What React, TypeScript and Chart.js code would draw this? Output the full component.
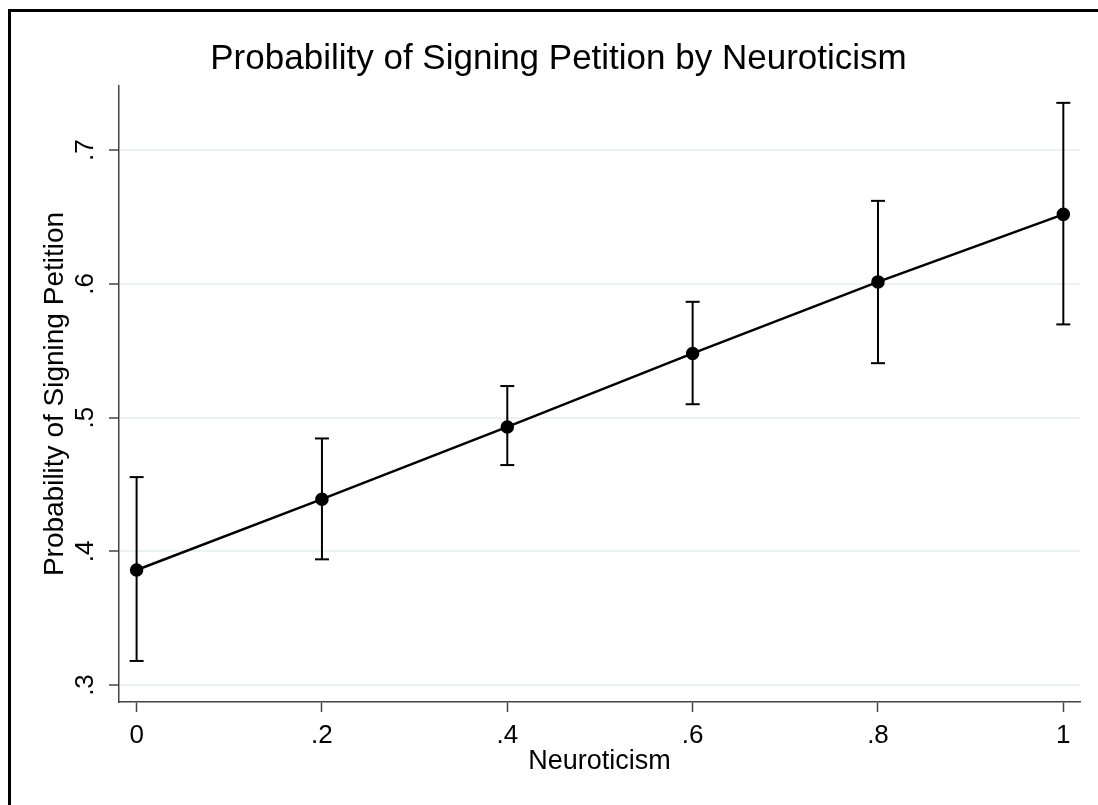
import { useEffect, useRef } from "react";
import { Chart, registerables } from "chart.js";

Chart.register(...registerables);

// Predicted probability of signing the petition at each neuroticism level, with 95% CI
const neuroticism = [0, 0.2, 0.4, 0.6, 0.8, 1];
const probability = [0.386, 0.439, 0.493, 0.548, 0.6015, 0.652];
const ciLower = [0.318, 0.394, 0.4645, 0.51, 0.5407, 0.5697];
const ciUpper = [0.4555, 0.4844, 0.5236, 0.5866, 0.6621, 0.7354];

const xTicks = [0, 0.2, 0.4, 0.6, 0.8, 1];
const yTicks = [0.3, 0.4, 0.5, 0.6, 0.7];
const xRange = [-0.019, 1.018];
const yRange = [0.2873, 0.748];

const chartTitle = "Probability of Signing Petition by Neuroticism";
const xTitle = "Neuroticism";
const yTitle = "Probability of Signing Petition";

const FONT = "'Liberation Sans', Arial, Helvetica, sans-serif";
const AXIS_COLOR = "#444444";
const GRID_COLOR = "#eaf2f3";

// Stata-style labels: ".2" instead of "0.2"
const fmt = (v: number) => {
  if (v === 0) return "0";
  if (v === 1) return "1";
  return String(+v.toFixed(1)).replace(/^0\./, ".");
};

export default function App() {
  const canvasRef = useRef<HTMLCanvasElement | null>(null);

  useEffect(() => {
    document.documentElement.style.overflow = "hidden";
    document.documentElement.style.background = "#fff";
    document.body.style.overflow = "hidden";
    const canvas = canvasRef.current;
    if (!canvas) return;

    // one vertical segment per level, separated by gaps
    const ciData = neuroticism.flatMap((x, i) => [
      { x, y: ciLower[i] },
      { x, y: ciUpper[i] },
      { x, y: null as number | null },
    ]);
    const pointData = neuroticism.map((x, i) => ({ x, y: probability[i] }));

    const chart = new Chart(canvas, {
      type: "line",
      data: {
        datasets: [
          {
            label: "Probability",
            data: pointData,
            borderColor: "#000",
            borderWidth: 2.5,
            pointRadius: 6,
            pointBorderWidth: 1.5,
            pointBackgroundColor: "#000",
            pointBorderColor: "#000",
            pointHoverRadius: 6,
            tension: 0,
          },
          {
            label: "95% CI",
            data: ciData,
            showLine: true,
            spanGaps: false,
            borderColor: "#000",
            borderWidth: 2,
            pointStyle: "line",
            pointRadius: 7,
            pointHoverRadius: 7,
            pointBorderWidth: 2,
            pointBorderColor: "#000",
          },
        ],
      },
      options: {
        responsive: false,
        animation: false,
        events: [],
        layout: { padding: { left: 26, right: 18, top: 0, bottom: 0 } },
        plugins: {
          legend: { display: false },
          tooltip: { enabled: false },
          title: {
            display: true,
            text: chartTitle,
            color: "#000",
            font: { family: FONT, size: 35, weight: "normal", lineHeight: 1.2 },
            padding: { top: 26, bottom: 6 },
          },
        },
        scales: {
          x: {
            type: "linear",
            min: xRange[0],
            max: xRange[1],
            afterBuildTicks: (s: any) => {
              s.ticks = xTicks.map((v) => ({ value: v }));
            },
            afterFit: (s: any) => {
              s.height = 103;
            },
            grid: {
              drawOnChartArea: false,
              drawTicks: true,
              tickLength: 10,
              tickWidth: 1.5,
              tickColor: AXIS_COLOR,
            },
            border: { display: true, color: AXIS_COLOR, width: 1.5 },
            ticks: {
              color: "#000",
              font: { family: FONT, size: 26 },
              padding: 8,
              maxRotation: 0,
              autoSkip: false,
              callback: (v: any) => fmt(Number(v)),
            },
            title: {
              display: true,
              text: xTitle,
              color: "#000",
              font: { family: FONT, size: 27 },
              padding: { top: 0, bottom: 27 },
            },
          },
          y: {
            type: "linear",
            min: yRange[0],
            max: yRange[1],
            afterBuildTicks: (s: any) => {
              s.ticks = yTicks.map((v) => ({ value: v }));
            },
            afterFit: (s: any) => {
              s.width = 82;
            },
            grid: {
              color: GRID_COLOR,
              lineWidth: 2,
              drawTicks: true,
              tickLength: 10,
              tickWidth: 1.5,
              tickColor: AXIS_COLOR,
            },
            border: { display: true, color: AXIS_COLOR, width: 1.5 },
            ticks: {
              color: "#000",
              font: { family: FONT, size: 26 },
              padding: 12,
              minRotation: 90,
              maxRotation: 90,
              crossAlign: "center",
              autoSkip: false,
              callback: (v: any) => fmt(Number(v)),
            },
            title: {
              display: true,
              text: yTitle,
              color: "#000",
              font: { family: FONT, size: 28 },
              padding: { top: 1, bottom: 0 },
            },
          },
        },
      } as any,
    });

    return () => chart.destroy();
  }, []);

  return (
    <div
      style={{
        position: "fixed",
        left: 0,
        top: 0,
        width: 1098,
        height: 805,
        background: "#fff",
        overflow: "hidden",
      }}
    >
      <div
        style={{
          position: "absolute",
          left: 8,
          top: 9,
          width: 1100,
          height: 800,
          boxSizing: "border-box",
          borderLeft: "3px solid #000",
          borderTop: "3px solid #000",
        }}
      >
        <canvas ref={canvasRef} width={1087} height={793} style={{ display: "block" }} />
      </div>
    </div>
  );
}
